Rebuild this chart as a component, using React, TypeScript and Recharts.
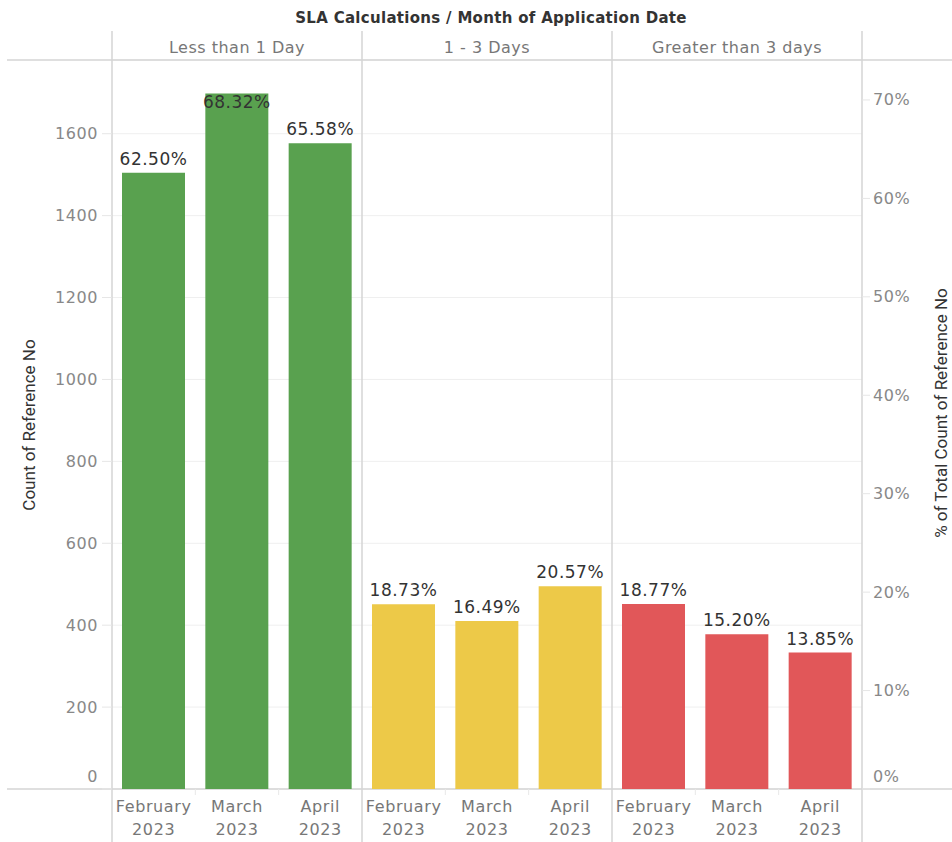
import React from 'react';
import {
  ComposedChart,
  Bar,
  Line,
  XAxis,
  YAxis,
  CartesianGrid,
  Cell,
  LabelList,
  Customized,
} from 'recharts';

// ---------- data ----------
const months = ['February', 'March', 'April'];
const monthYear = '2023';
const groups = ['Less than 1 Day', '1 - 3 Days', 'Greater than 3 days'];
const groupColors = ['#59A14F', '#EDC948', '#E15759'];

const lessThan1DayCounts = [1505, 1698, 1577];
const oneToThreeDaysCounts = [451, 410, 495];
const greaterThan3DaysCounts = [452, 378, 333];

const lessThan1DayPct = [0.625, 0.6832, 0.6558];
const oneToThreeDaysPct = [0.1873, 0.1649, 0.2057];
const greaterThan3DaysPct = [0.1877, 0.152, 0.1385];

const countTicks = [0, 200, 400, 600, 800, 1000, 1200, 1400, 1600];
const pctTicks = [0, 0.1, 0.2, 0.3, 0.4, 0.5, 0.6, 0.7];

const title = 'SLA Calculations / Month of Application Date';
const leftTitle = 'Count of Reference No';
const rightTitle = '% of Total Count of Reference No';

// ---------- layout ----------
const W = 952;
const H = 842;
const PLOT_LEFT = 112;
const PLOT_RIGHT = 862;
const PLOT_TOP = 60;
const PLOT_BOTTOM = 789;
const FONT = "'DejaVu Sans', Verdana, sans-serif";
const TITLE_FONT = "Roboto, 'Liberation Sans', sans-serif";

const countsByGroup = [lessThan1DayCounts, oneToThreeDaysCounts, greaterThan3DaysCounts];
const pctByGroup = [lessThan1DayPct, oneToThreeDaysPct, greaterThan3DaysPct];

const rows = groups.flatMap((g, gi) =>
  months.map((m, mi) => ({
    key: `${gi}-${mi}`,
    group: gi,
    month: m,
    count: countsByGroup[gi][mi],
    pct: pctByGroup[gi][mi],
  }))
);

const fmtPct = (v: number) => `${(v * 100).toFixed(2)}%`;

const LeftTick = (props: any) => {
  const { x, y, payload } = props;
  const dy = payload.value === 0 ? -13 : 0;
  return (
    <text
      x={x}
      y={y + dy}
      textAnchor="end"
      dominantBaseline="central"
      fontFamily={FONT}
      fontSize={16}
      letterSpacing={0.6}
      fill="#888"
    >
      {payload.value}
    </text>
  );
};

const RightTick = (props: any) => {
  const { x, y, payload } = props;
  const dy = payload.value === 0 ? -13 : 0;
  return (
    <text
      x={x}
      y={y + dy}
      textAnchor="start"
      dominantBaseline="central"
      fontFamily={FONT}
      fontSize={16}
      letterSpacing={0.6}
      fill="#888"
    >
      {`${Math.round(payload.value * 100)}%`}
    </text>
  );
};

const MonthTick = (props: any) => {
  const { x, payload } = props;
  const row = rows[payload.index] || rows.find((r) => r.key === payload.value);
  return (
    <g>
      <text
        x={x}
        y={PLOT_BOTTOM + 17}
        textAnchor="middle"
        dominantBaseline="central"
        fontFamily={FONT}
        fontSize={16}
        letterSpacing={0.6}
        fill="#777"
      >
        {row ? row.month : ''}
      </text>
      <text
        x={x}
        y={PLOT_BOTTOM + 40}
        textAnchor="middle"
        dominantBaseline="central"
        fontFamily={FONT}
        fontSize={16}
        letterSpacing={0.6}
        fill="#777"
      >
        {monthYear}
      </text>
    </g>
  );
};

const BarLabel = (props: any) => {
  const { x, y, width, value } = props;
  const cx = Number(x) + Number(width) / 2;
  const top = Number(y);
  const inside = top - PLOT_TOP < 40;
  const cy = inside ? top + 8 : top - 14;
  return (
    <text
      x={cx}
      y={cy}
      textAnchor="middle"
      dominantBaseline="central"
      fontFamily={FONT}
      fontSize={17}
      letterSpacing={0.5}
      fill="#333"
    >
      {fmtPct(Number(value))}
    </text>
  );
};

const Overlay = () => {
  const paneW = (PLOT_RIGHT - PLOT_LEFT) / groups.length;
  const bandW = (PLOT_RIGHT - PLOT_LEFT) / rows.length;
  const lineColor = '#d4d4d4';
  return (
    <g>
      {/* title */}
      <text
        x={(PLOT_LEFT + PLOT_RIGHT) / 2 + 4}
        y={18}
        textAnchor="middle"
        dominantBaseline="central"
        fontFamily={FONT}
        fontWeight="bold"
        fontSize={15}
        letterSpacing={0.3}
        fill="#333"
      >
        {title}
      </text>
      {/* header line and axis line */}
      <line x1={7} x2={W} y1={PLOT_TOP} y2={PLOT_TOP} stroke={lineColor} strokeWidth={1.5} />
      <line x1={7} x2={W} y1={PLOT_BOTTOM} y2={PLOT_BOTTOM} stroke={lineColor} strokeWidth={1.5} />
      {/* pane borders */}
      {[0, 1, 2, 3].map((i) => (
        <line
          key={`pb${i}`}
          x1={PLOT_LEFT + i * paneW}
          x2={PLOT_LEFT + i * paneW}
          y1={31}
          y2={H}
          stroke={lineColor}
          strokeWidth={1.5}
        />
      ))}
      {/* small band ticks under the axis */}
      {rows.map((r, i) =>
        i % 3 === 0 ? null : (
          <line
            key={`bt${i}`}
            x1={PLOT_LEFT + i * bandW}
            x2={PLOT_LEFT + i * bandW}
            y1={PLOT_BOTTOM}
            y2={PLOT_BOTTOM + 6}
            stroke="#e8e8e8"
            strokeWidth={1}
          />
        )
      )}
      {/* pane headers */}
      {groups.map((g, i) => (
        <text
          key={`h${i}`}
          x={PLOT_LEFT + (i + 0.5) * paneW}
          y={47}
          textAnchor="middle"
          dominantBaseline="central"
          fontFamily={FONT}
          fontSize={16}
          letterSpacing={0.5}
          fill="#777"
        >
          {g}
        </text>
      ))}
      {/* axis titles */}
      <text
        x={29}
        y={425}
        transform="rotate(-90 29 425)"
        textAnchor="middle"
        dominantBaseline="central"
        fontFamily={TITLE_FONT}
        fontSize={17}
        fill="#333"
      >
        {leftTitle}
      </text>
      <text
        x={941}
        y={413}
        transform="rotate(-90 941 413)"
        textAnchor="middle"
        dominantBaseline="central"
        fontFamily={TITLE_FONT}
        fontSize={17}
        fill="#333"
      >
        {rightTitle}
      </text>
    </g>
  );
};

export default function App() {
  return (
    <div style={{ position: 'absolute', left: 0, top: 0, width: W, height: H, background: '#fff' }}>
      <ComposedChart
        width={W}
        height={H}
        data={rows}
        margin={{ top: PLOT_TOP, right: 0, bottom: 0, left: 0 }}
      >
        <CartesianGrid
          yAxisId="left"
          vertical={false}
          stroke="#efefef"
          strokeWidth={1}
        />
        <XAxis
          dataKey="key"
          interval={0}
          height={H - PLOT_BOTTOM}
          tickLine={false}
          axisLine={false}
          tick={<MonthTick />}
        />
        <YAxis
          yAxisId="left"
          orientation="left"
          width={PLOT_LEFT}
          domain={[0, 1780]}
          ticks={countTicks}
          allowDataOverflow
          axisLine={false}
          tickLine={{ stroke: '#e6e6e6' }}
          tickSize={10}
          tickMargin={4}
          tick={<LeftTick />}
        />
        <YAxis
          yAxisId="right"
          orientation="right"
          width={W - PLOT_RIGHT}
          domain={[0, 0.7406]}
          ticks={pctTicks}
          allowDataOverflow
          axisLine={false}
          tickLine={{ stroke: '#e6e6e6' }}
          tickSize={8}
          tickMargin={3}
          tick={<RightTick />}
        />
        <Bar yAxisId="left" dataKey="count" barSize={63} isAnimationActive={false}>
          {rows.map((r) => (
            <Cell key={r.key} fill={groupColors[r.group]} />
          ))}
          <LabelList dataKey="pct" content={<BarLabel />} />
        </Bar>
        <Line
          yAxisId="right"
          dataKey="pct"
          stroke="none"
          dot={false}
          activeDot={false}
          legendType="none"
          isAnimationActive={false}
        />
        <Customized component={<Overlay />} />
      </ComposedChart>
    </div>
  );
}
